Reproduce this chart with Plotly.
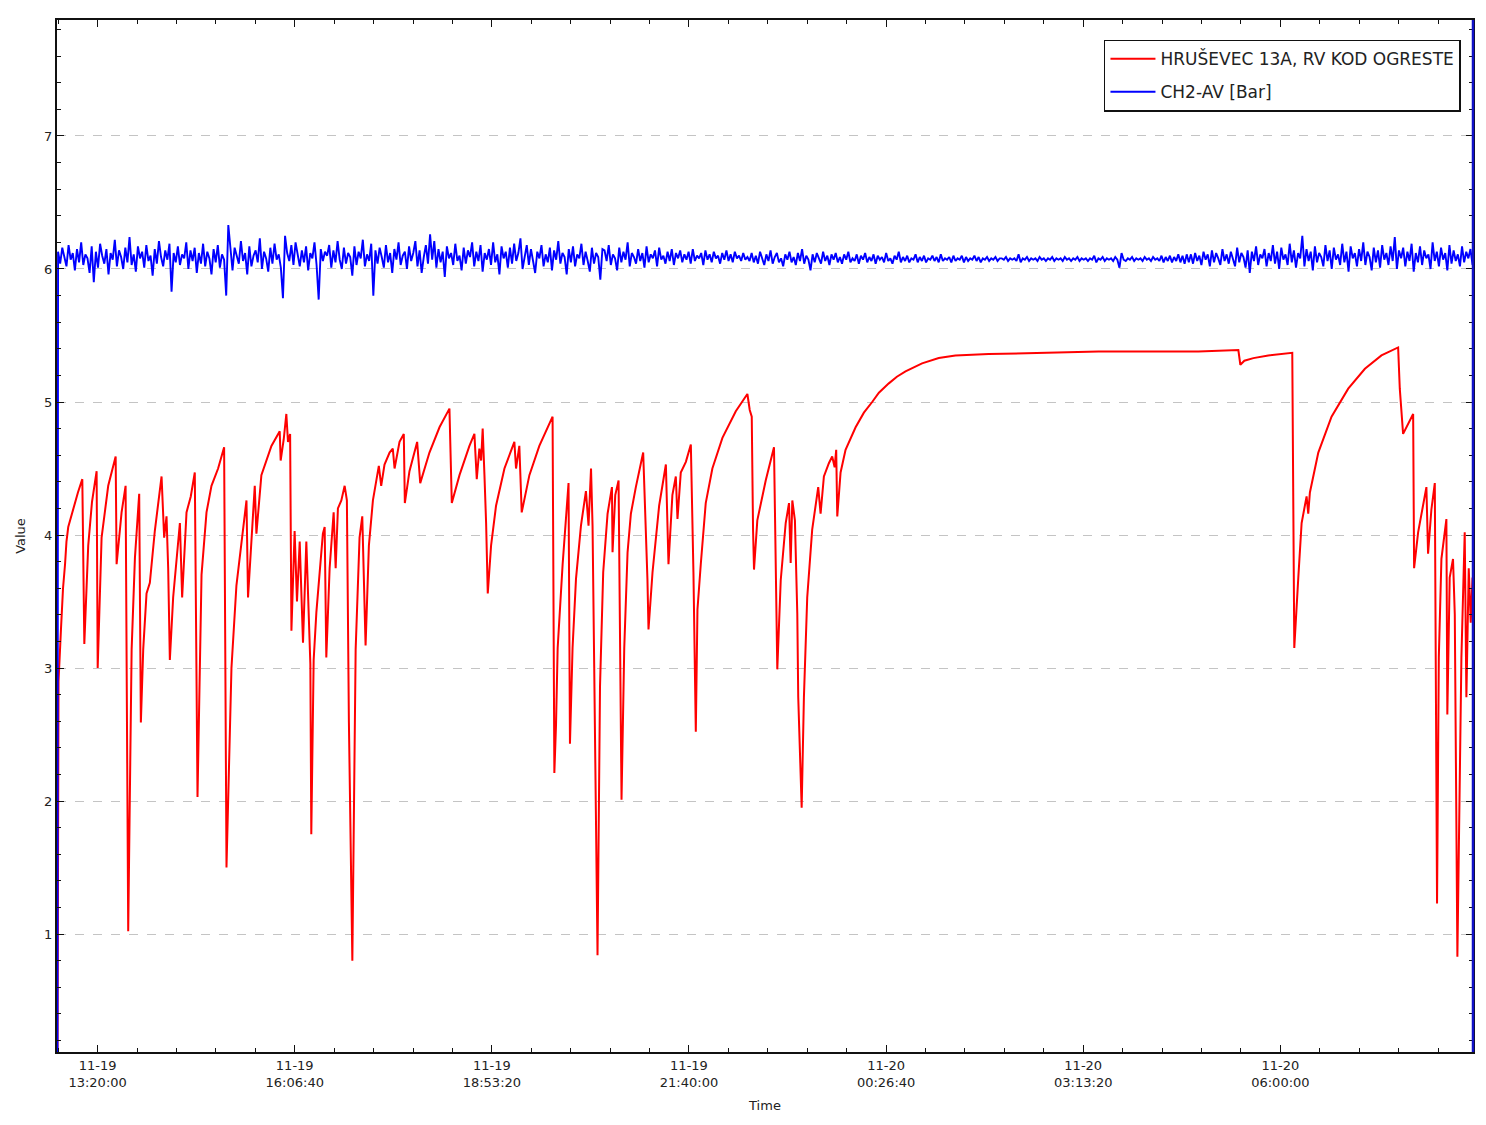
import pandas as pd
import plotly.graph_objects as go

# ---------------- data ----------------
START = "2020-11-19 12:45:40"          # left edge of the time axis
END = "2020-11-20 08:42:52"            # right edge of the time axis
TICK0 = "2020-11-19 13:20:00"

red_name = "HRUŠEVEC 13A, RV KOD OGRESTE"
blue_name = "CH2-AV [Bar]"

# red series: minutes after START, value
red_min = [0.4, 1.3, 3.4, 5.1, 6.8, 8.0, 9.5, 13.8, 17.7, 21.4, 23.1, 26.4, 29.6, 33.5, 34.4,
           37.7, 43.3, 49.6, 50.4, 54.6, 58.0, 60.2, 63.1, 65.9, 69.5, 70.9, 72.9, 75.7, 78.5,
           82.7, 88.4, 90.6, 92.6, 94.0, 95.4, 98.2, 101.1, 103.9, 105.8, 109.5, 113.1, 116.5,
           118.8, 122.2, 126.4, 130.6, 136.2, 141.3, 143.3, 147.5, 151.7, 155.9, 160.2, 161.5,
           167.2, 168.6, 172.8, 181.3, 188.3, 189.1, 191.7, 193.9, 195.3, 197.1, 198.2, 200.9,
           202.9, 205.2, 208.0, 210.8, 212.2, 214.2, 215.0, 217.0, 219.3, 222.1, 224.8, 226.3,
           227.7, 230.5, 233.9, 235.6, 237.5, 240.4, 243.2, 245.1, 246.8, 249.7, 252.5, 255.8,
           258.1, 260.9, 263.7, 267.1, 270.4, 272.1, 274.1, 276.9, 281.2, 283.9, 285.4, 289.6,
           293.2, 294.1, 298.0, 304.5, 307.1, 314.9, 323.4, 331.8, 333.8, 340.3, 348.7, 352.9,
           354.9, 357.1, 358.6, 359.9, 361.4, 362.8, 364.2, 367.0, 371.2, 378.3, 386.7, 388.1,
           390.9, 392.9, 399.4, 407.8, 419.0, 420.5, 421.9, 423.3, 427.5, 430.3, 432.5, 433.7,
           435.9, 438.8, 443.0, 447.2, 449.4, 451.5, 452.8, 454.2, 457.0, 459.1, 461.8, 465.5,
           469.2, 469.7, 472.0, 474.8, 475.9, 477.3, 479.6, 482.4, 485.2, 489.4, 495.6, 497.9,
           499.2, 500.1, 503.5, 509.1, 514.8, 517.0, 520.3, 523.2, 524.6, 527.4, 531.7, 535.9,
           537.2, 538.1, 540.1, 541.5, 544.3, 548.5, 554.1, 562.6, 573.9, 583.7, 585.7, 587.4,
           588.5, 589.3, 592.1, 599.2, 606.2, 607.6, 609.0, 611.9, 616.1, 618.9, 620.3, 621.7,
           623.9, 625.9, 626.7, 629.6, 631.5, 634.3, 638.5, 643.6, 645.6, 648.4, 652.6, 655.4,
           657.5, 658.8, 659.7, 662.5, 666.7, 675.2, 682.2, 689.2, 694.9, 703.3, 710.1, 717.4,
           724.4, 731.4, 745.5, 759.6, 787.7, 838.4, 880.6, 922.8, 965.0, 998.8, 1000.5, 1003.9,
           1011.5, 1024.1, 1044.4, 1046.1, 1047.8, 1049.5, 1052.3, 1056.5, 1057.9, 1059.3,
           1066.4, 1077.6, 1091.7, 1105.8, 1119.8, 1133.9, 1135.3, 1138.1, 1146.6, 1147.4,
           1150.8, 1157.8, 1159.2, 1162.0, 1164.9, 1165.7, 1166.8, 1168.3, 1170.5, 1174.7,
           1175.5, 1177.5, 1180.3, 1181.8, 1184.0, 1187.4, 1190.2, 1191.6, 1193.6, 1195.3, 1196.8]

red_val = [0.0, 2.9, 3.3, 3.6, 3.78, 3.95, 4.06, 4.20, 4.32, 4.42, 3.18, 3.92, 4.25, 4.48, 3.0,
           3.98, 4.37, 4.59, 3.78, 4.17, 4.37, 1.02, 3.14, 3.83, 4.31, 2.59, 3.14, 3.56, 3.64,
           4.03, 4.44, 3.98, 4.14, 3.75, 3.06, 3.53, 3.81, 4.09, 3.53, 4.17, 4.29, 4.47,
           2.03, 3.70, 4.17, 4.37, 4.50, 4.66, 1.50, 3.0, 3.62, 3.92, 4.26, 3.53,
           4.37, 4.01, 4.45, 4.67, 4.78, 4.56, 4.72, 4.91, 4.70, 4.76, 3.28, 4.03,
           3.50, 3.95, 3.19, 3.95, 3.53, 3.03, 1.75, 3.06, 3.42, 3.70, 4.01, 4.06,
           3.08, 3.75, 4.17, 3.75, 4.20, 4.26, 4.37, 4.26, 2.59, 0.80, 3.14, 3.98,
           4.14, 3.17, 3.92, 4.26, 4.42, 4.52, 4.37, 4.53, 4.62, 4.65, 4.50, 4.70,
           4.76, 4.24, 4.48, 4.70, 4.39, 4.62, 4.81, 4.95, 4.24, 4.45, 4.67, 4.76,
           4.42, 4.65, 4.56, 4.80, 4.45, 4.09, 3.56, 3.92, 4.22, 4.50, 4.70, 4.50,
           4.67, 4.17, 4.45, 4.67, 4.89, 2.21, 2.57, 3.15, 3.78, 4.16, 4.39, 2.43,
           3.15, 3.67, 4.07, 4.33, 4.07, 4.50, 4.07, 3.01, 0.84, 2.86, 3.72, 4.16,
           4.36, 3.87, 4.30, 4.41, 3.15, 2.01, 3.15, 3.87, 4.16, 4.36, 4.62, 4.07,
           3.67, 3.29, 3.72, 4.22, 4.53, 3.78, 4.30, 4.44, 4.12, 4.47, 4.55, 4.68,
           4.12, 3.72, 2.52, 3.44, 3.78, 4.24, 4.50, 4.73, 4.93, 5.06, 4.94, 4.89,
           4.04, 3.74, 4.11, 4.41, 4.66, 3.79, 2.99, 3.66, 4.09, 4.24, 3.79, 4.26,
           4.11, 3.41, 2.78, 1.95, 2.78, 3.53, 4.04, 4.36, 4.16, 4.44, 4.54, 4.59,
           4.51, 4.64, 4.14, 4.47, 4.64, 4.81, 4.92, 5.00, 5.07, 5.14, 5.19, 5.23,
           5.26, 5.29, 5.33, 5.35, 5.36, 5.37, 5.38, 5.38, 5.38, 5.39, 5.28, 5.31,
           5.33, 5.35, 5.37, 3.15, 3.45, 3.68, 4.09, 4.29, 4.16, 4.32,
           4.62, 4.89, 5.10, 5.25, 5.35, 5.41, 5.10, 4.76, 4.91, 3.75,
           4.02, 4.36, 3.86, 4.19, 4.39, 3.08, 1.23, 3.08, 3.82, 4.12,
           2.65, 3.68, 3.82, 3.40, 0.83, 3.08, 4.02, 2.78, 3.75, 3.34, 3.68]

# blue series: first logged sample, then regularly sampled readings
blue_first_min = 0.4
blue_first_val = 0.0
blue_start_min = 0.9
blue_step_min = 1.777

blue_day = [  # busy afternoon / evening
    6.13, 6.04, 6.16, 6.09, 6.02, 6.18, 6.07, 6.12, 5.99, 6.15, 6.05, 6.20, 6.03, 6.11, 6.08, 5.97, 6.17, 5.90, 6.13, 6.01,
    6.19, 6.10, 6.04, 6.15, 5.96, 6.12, 6.07, 6.22, 6.02, 6.14, 6.09, 6.00, 6.16, 6.05, 6.24, 6.03, 6.11, 5.98, 6.17, 6.08,
    6.13, 6.01, 6.18, 6.06, 6.10, 5.95, 6.15, 6.04, 6.21, 6.09, 6.02, 6.14, 6.07, 6.19, 5.83, 6.12, 6.05, 6.17, 6.03, 6.11,
    6.08, 6.20, 6.00, 6.14, 6.06, 6.16, 5.97, 6.12, 6.04, 6.19, 6.02, 6.13, 6.08, 5.96, 6.15, 6.05, 6.18, 6.01, 6.11, 6.07,
    5.80, 6.33, 6.14, 5.99, 6.16, 6.09, 6.04, 6.21, 6.06, 6.12, 5.96, 6.17, 6.02, 6.10, 6.14, 6.05, 6.23, 6.00, 6.13, 6.08,
    5.98, 6.16, 6.04, 6.19, 6.07, 6.11, 6.01, 5.78, 6.25, 6.12, 6.06, 6.18, 6.03, 6.20, 6.09, 6.02, 6.14, 6.05, 6.17, 5.99,
    6.12, 6.08, 6.20, 6.03, 5.77, 6.15, 6.06, 6.13, 6.10, 6.18, 6.01, 6.14, 6.05, 6.21, 6.07, 6.00, 6.16, 6.04, 6.12, 6.09,
    5.95, 6.17, 6.03, 6.13, 6.08, 6.22, 6.02, 6.11, 6.06, 6.19, 5.80, 6.14, 6.04, 6.16, 6.09, 6.01, 6.18, 6.05, 6.12, 5.97,
    6.15, 6.07, 6.20, 6.03, 6.10, 6.13, 6.00, 6.17, 6.06, 6.12, 6.21, 6.02, 6.14, 5.97, 6.09, 6.18, 6.04, 6.26, 6.07, 6.21,
    6.01, 6.15, 6.05, 6.13, 5.94, 6.17, 6.08, 6.12, 6.03, 6.19, 6.06, 6.10, 5.99, 6.16, 6.04, 6.14, 6.09, 6.20, 6.02, 6.13,
    6.06, 6.18, 5.98, 6.12, 6.07, 6.15, 6.03, 6.20, 6.05, 6.11, 5.96, 6.17, 6.08, 6.13, 6.01, 6.16, 6.04, 6.19, 6.06, 6.12,
    6.23, 6.00, 6.09, 6.18, 6.03, 6.15, 6.06, 5.97, 6.13, 6.08, 6.18, 6.02, 6.11, 6.05, 6.16, 5.99, 6.14, 6.07, 6.21, 6.04,
    6.12, 6.09, 5.96, 6.15, 6.05, 6.17, 6.02, 6.11, 6.08, 6.19, 6.03, 6.13, 6.06, 5.98, 6.16, 6.04, 6.12, 6.09, 5.92, 6.15,
    6.14, 6.06, 6.18, 6.03, 6.11, 6.08, 5.99, 6.16, 6.05, 6.13, 6.07, 6.20, 6.02, 6.12, 6.09, 6.04, 6.15, 6.06, 6.12, 6.01,
    6.17, 6.05, 6.11, 6.08, 6.14, 6.02, 6.16, 6.07, 6.10, 6.04, 6.13, 6.06, 6.15, 6.03, 6.12, 6.08, 6.14, 6.05, 6.11, 6.07,
    6.13, 6.04, 6.15, 6.06, 6.10, 6.08, 6.12, 6.03, 6.14, 6.07, 6.11, 6.05, 6.13, 6.08, 6.10, 6.04, 6.12, 6.07, 6.14, 6.06,
    6.11, 6.05, 6.13, 6.08, 6.10, 6.06, 6.12, 6.07, 6.09, 6.06]
blue_late = [  # calming down late evening
    6.12, 6.05, 6.10, 6.04, 6.13, 6.07, 6.03, 6.11, 6.06, 6.14, 6.04, 6.09, 6.12, 6.05, 6.08, 6.02, 6.11, 6.07, 6.13, 6.05,
    6.09, 6.03, 6.12, 6.06, 6.15, 6.04, 6.10, 6.07, 5.99, 6.11, 6.05, 6.12, 6.08, 6.04, 6.13, 6.06, 6.10, 6.03, 6.11, 6.07,
    6.12, 6.05, 6.09, 6.04, 6.11, 6.07, 6.13, 6.05, 6.08, 6.06, 6.11, 6.04, 6.10, 6.07, 6.12, 6.05, 6.09, 6.06, 6.11, 6.04,
    6.10, 6.07, 6.09, 6.05, 6.12, 6.06, 6.08, 6.04, 6.10, 6.07, 6.13, 6.05, 6.09, 6.06, 6.10, 6.05, 6.08, 6.07, 6.11, 6.05,
    6.09, 6.06, 6.10, 6.05, 6.08, 6.07, 6.10, 6.06, 6.09, 6.05, 6.11, 6.06, 6.08, 6.07, 6.09, 6.05, 6.10, 6.06, 6.08, 6.07,
    6.10, 6.05, 6.09, 6.06, 6.08, 6.07, 6.10, 6.06, 6.09, 6.05, 6.08, 6.07, 6.09, 6.06, 6.08, 6.07, 6.09, 6.06, 6.08]
blue_night = [  # quiet night
    6.08, 6.07, 6.09, 6.06, 6.08, 6.07, 6.08, 6.06, 6.11, 6.05, 6.08, 6.07, 6.09, 6.06, 6.08, 6.07, 6.08, 6.06, 6.09, 6.07,
    6.08, 6.06, 6.08, 6.07, 6.09, 6.06, 6.08, 6.07, 6.08, 6.06, 6.09, 6.07, 6.08, 6.06, 6.08, 6.07, 6.09, 6.06, 6.08, 6.07,
    6.08, 6.06, 6.08, 6.07, 6.10, 6.05, 6.08, 6.07, 6.09, 6.06, 6.08, 6.07, 6.08, 6.06, 6.09, 6.07, 6.01, 6.12, 6.07, 6.06,
    6.08, 6.07, 6.09, 6.06, 6.08, 6.07, 6.08, 6.06, 6.09, 6.07, 6.08, 6.06, 6.09, 6.07, 6.08, 6.06, 6.10, 6.05, 6.09, 6.06,
    6.10, 6.05, 6.09, 6.06, 6.11, 6.05, 6.10, 6.04, 6.11, 6.05]
blue_morning = [  # morning demand
    6.11, 6.04, 6.12, 6.06, 6.10, 6.03, 6.13, 6.07, 6.11, 6.02, 6.14, 6.05, 6.12, 6.08, 6.03, 6.15, 6.06, 6.11, 6.04, 6.13,
    6.07, 6.02, 6.16, 6.05, 6.12, 6.09, 6.01, 6.14, 5.97, 6.13, 6.06, 6.17, 6.03, 6.11, 6.08, 6.15, 6.02, 6.12, 6.06, 6.18,
    6.04, 6.13, 6.00, 6.16, 6.07, 6.11, 6.03, 6.19, 6.05, 6.14, 6.01, 6.12, 6.08, 6.25, 6.02, 6.15, 6.06, 6.13, 5.99, 6.17,
    6.05, 6.12, 6.09, 6.02, 6.18, 6.06, 6.14, 6.00, 6.16, 6.07, 6.11, 6.03, 6.19, 6.05, 6.13, 5.98, 6.17, 6.08, 6.12, 6.02,
    6.15, 6.06, 6.20, 6.03, 6.13, 6.09, 5.99, 6.16, 6.05, 6.14, 6.01, 6.18, 6.07, 6.12, 6.03, 6.17, 6.06, 6.24, 6.00, 6.14,
    6.08, 6.16, 6.02, 6.13, 6.06, 6.19, 5.98, 6.12, 6.05, 6.17, 6.03, 6.14, 6.08, 6.11, 6.00, 6.20, 6.06, 6.13, 6.02, 6.16,
    6.07, 6.12, 5.99, 6.18, 6.04, 6.14, 6.06, 6.11, 6.02, 6.17, 6.05, 6.13, 6.08, 6.15, 6.03]

y_range = [0.113, 7.872]
y_ticks = [1, 2, 3, 4, 5, 6, 7]

# ---------------- build ----------------
t0 = pd.Timestamp(START)
red_t = t0 + pd.to_timedelta(red_min, unit="min")

blue_vals = blue_day + blue_late + blue_night + blue_morning
blue_mins = [blue_first_min] + [blue_start_min + i * blue_step_min for i in range(len(blue_vals))]
blue_t = t0 + pd.to_timedelta(blue_mins, unit="min")
blue_all = [blue_first_val] + blue_vals

FONT = "DejaVu Sans"

fig = go.Figure()
fig.add_trace(go.Scatter(x=red_t, y=red_val, mode="lines", name=red_name,
                         line=dict(color="#ff0000", width=2), legendgroup="a"))
fig.add_trace(go.Scatter(x=blue_t, y=blue_all, mode="lines", name=blue_name,
                         line=dict(color="#0000ff", width=1.9), legendgroup="b"))

fig.update_layout(
    width=1486, height=1125,
    margin=dict(l=57, r=11, t=20, b=73),
    paper_bgcolor="white", plot_bgcolor="white",
    font=dict(family=FONT, size=13, color="#222222"),
    showlegend=True,
    legend=dict(x=0.9915, y=0.981, xanchor="right", yanchor="top",
                bgcolor="white", bordercolor="#111111", borderwidth=1.5,
                font=dict(family=FONT, size=17, color="#222222"),
                traceorder="grouped", tracegroupgap=8, itemwidth=45),
    xaxis=dict(
        type="date", range=[START, END],
        tick0=TICK0, dtick=10000000, tickformat="%m-%d<br>%H:%M:%S",
        ticks="inside", ticklen=7, tickwidth=1, tickcolor="#111111",
        minor=dict(ticks="inside", ticklen=4, tickcolor="#111111",
                   tick0=TICK0, dtick=2000000, showgrid=False),
        showline=True, linecolor="#111111", linewidth=2, mirror="ticks",
        showgrid=False, zeroline=False,
        title=dict(text="Time", font=dict(size=13), standoff=12),
        tickfont=dict(size=13),
    ),
    yaxis=dict(
        range=y_range, tickvals=y_ticks,
        ticks="inside", ticklen=7, tickwidth=1, tickcolor="#111111",
        minor=dict(ticks="inside", ticklen=4, tickcolor="#111111",
                   tick0=0, dtick=0.2, showgrid=False),
        showline=True, linecolor="#111111", linewidth=2, mirror="ticks",
        showgrid=True, gridcolor="#c4c4c4", griddash="dash", gridwidth=1,
        zeroline=False,
        title=dict(text="Value", font=dict(size=13), standoff=16),
        tickfont=dict(size=13),
    ),
)

# right frame edge drawn in blue as in the original
fig.add_shape(type="line", xref="paper", yref="paper", x0=1, x1=1, y0=0, y1=1,
              line=dict(color="#1010c8", width=2.5), layer="above")

fig.write_html("out.html")
